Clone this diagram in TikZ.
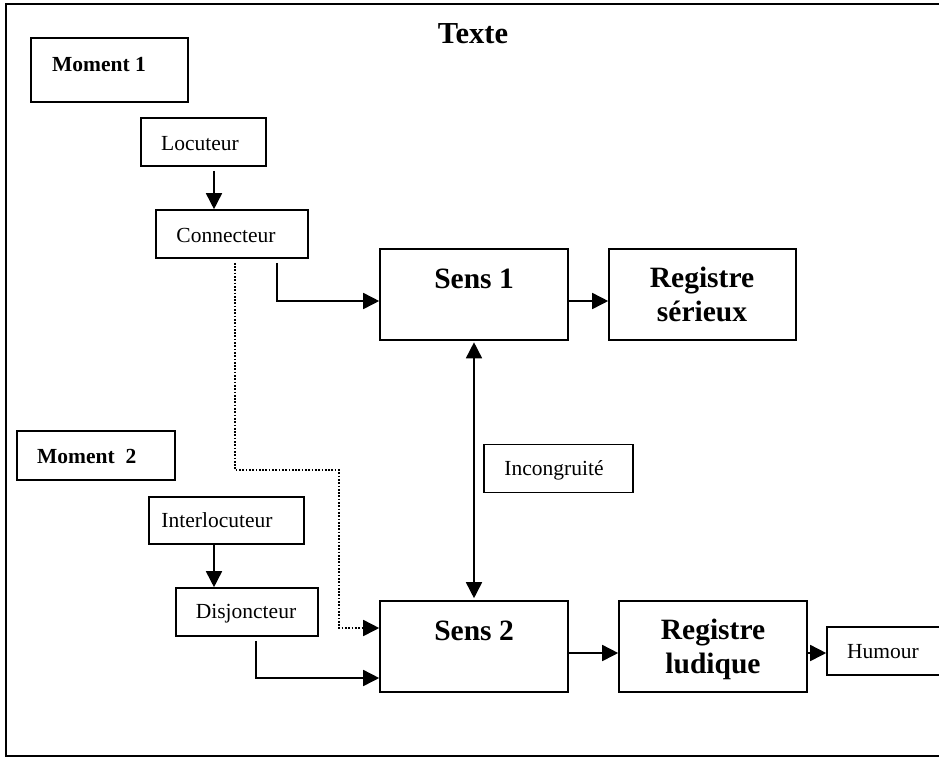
\documentclass[tikz,border=0pt]{standalone}
\usepackage{fontspec}
\setmainfont{Liberation Serif}
\usetikzlibrary{arrows.meta,calc}
\tikzset{
  box/.style={draw, line width=1.6pt, inner sep=0pt, rectangle},
  lbl/.style={anchor=base, inner sep=0pt, font=\fontsize{21.5}{24}\selectfont},
  blbl/.style={anchor=base, inner sep=0pt, font=\fontsize{29.5}{34}\selectfont\bfseries},
  arr/.style={line width=1.6pt, -{Triangle[length=16pt,width=16pt]}},
  arrr/.style={line width=1.6pt, {Triangle[length=16pt,width=16pt]}-{Triangle[length=16pt,width=16pt]}},
  dotarr/.style={line width=1.7pt, dash pattern=on 1.7pt off 1.6pt, -{Triangle[length=16pt,width=16pt]}}
}
\begin{document}
\begin{tikzpicture}[x=1pt,y=-1pt]
\useasboundingbox (0,0) rectangle (939,758);
% outer frame (right side cut off)
\draw[line width=1.8pt] (960,4) -- (6,4) -- (6,756) -- (960,756);

% title
\node[blbl, font=\fontsize{30.5}{34}\selectfont\bfseries] (title) at (473,43) {Texte};

% boxes
\node[box, minimum width=157pt, minimum height=64pt] (m1) at (109.5,70) {};
\node[box, minimum width=125pt, minimum height=48pt] (loc) at (203.5,142) {};
\node[box, minimum width=152pt, minimum height=48pt] (conn) at (232,234) {};
\node[box, minimum width=188pt, minimum height=91pt] (sens1) at (474,294.5) {};
\node[box, minimum width=187pt, minimum height=91pt] (regs) at (702.5,294.5) {};
\node[box, minimum width=149pt, minimum height=48pt] (inc) at (558.5,468.5) {};
\node[box, minimum width=158pt, minimum height=49pt] (m2) at (96,455.5) {};
\node[box, minimum width=155pt, minimum height=47pt] (inter) at (226.5,520.5) {};
\node[box, minimum width=142pt, minimum height=48pt] (disj) at (247,612) {};
\node[box, minimum width=188pt, minimum height=91pt] (sens2) at (474,646.5) {};
\node[box, minimum width=188pt, minimum height=91pt] (regl) at (713,646.5) {};
\node[box, minimum width=133pt, minimum height=48pt] (hum) at (893.5,651) {};

% texts
\node[blbl, anchor=base west, font=\fontsize{21.5}{24}\selectfont\bfseries] (m1t) at (52,71) {Moment 1};
\node[lbl] (loct) at (200,150) {Locuteur};
\node[lbl] (connt) at (226,242) {Connecteur};
\node[blbl] (sens1t) at (474,288) {Sens 1};
\node[blbl] (regst1) at (702,287) {Registre};
\node[blbl] (regst2) at (702,321) {sérieux};
\node[lbl] (inct) at (554,475) {Incongruité};
\node[blbl, anchor=base west, font=\fontsize{21.5}{24}\selectfont\bfseries] (m2t) at (37,463) {Moment\ \ 2};
\node[lbl] (intert) at (217,527) {Interlocuteur};
\node[lbl] (disjt) at (246,618) {Disjoncteur};
\node[blbl] (sens2t) at (474,640) {Sens 2};
\node[blbl] (reglt1) at (713,639) {Registre};
\node[blbl] (reglt2) at (713,673) {ludique};
\node[lbl] (humt) at (883,658) {Humour};

% connectors
\draw[arr] ([xshift=10.5pt,yshift=-4pt]loc.south) -- ([xshift=10.5pt]loc.south |- conn.north);
\draw[arr] ([xshift=45pt,yshift=-4pt]conn.south) |- ([yshift=-6.5pt]sens1.west);
\coordinate (dbend) at (339,470);
\draw[dotarr] ([xshift=3pt,yshift=-4pt]conn.south) |- (dbend) |- ([yshift=18.5pt]sens2.west);
\draw[arr] ([yshift=-6.5pt]sens1.east) -- ([yshift=-6.5pt]regs.west);
\draw[arrr, shorten <=1.5pt, shorten >=2pt] (sens1.south) -- (sens2.north);
\draw[arr] ([xshift=-12.5pt]inter.south) -- ([xshift=-12.5pt]inter.south |- disj.north);
\draw[arr] ([xshift=9pt,yshift=-4pt]disj.south) |- ([yshift=-31.5pt]sens2.west);
\draw[arr] ([yshift=-6.5pt]sens2.east) -- ([yshift=-6.5pt]regl.west);
\draw[arr] ([yshift=-6.5pt]regl.east) -- ([yshift=-6.5pt]regl.east -| hum.west);
\end{tikzpicture}
\end{document}
